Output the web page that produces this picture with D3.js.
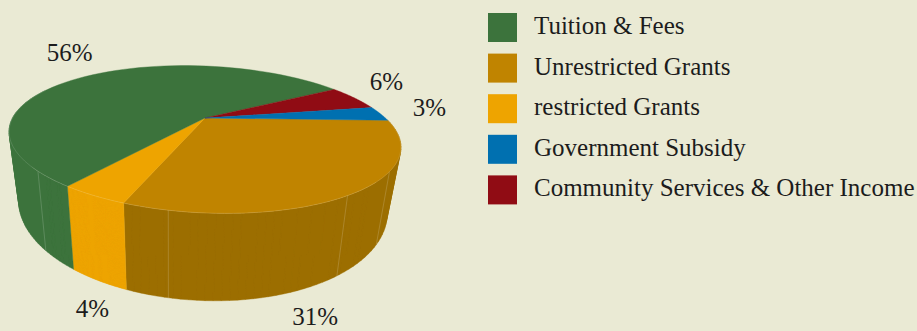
<!DOCTYPE html>
<html>
<head>
<meta charset="utf-8">
<script src="https://cdn.jsdelivr.net/npm/d3@7"></script>
<style>
    html, body { margin: 0; padding: 0; background: #eaead4; }
    svg { display: block; }
    text { font-family: "Liberation Serif", serif; fill: #1c1c1c; }
</style>
</head>
<body>
<script>
// legend order
const categories = ['Tuition & Fees', 'Unrestricted Grants', 'restricted Grants', 'Government Subsidy', 'Community Services & Other Income'];
const shares = [55.6, 31.3, 4.3, 3.2, 5.6];
const colors = ['#3c733c', '#c08400', '#eea400', '#0070b0', '#900c14'];
const wallColors = ['#3c733c', '#9c6e00', '#eea400', '#0070b0', '#900c14'];
// order of the slices around the pie, clockwise
const sliceOrder = [1, 2, 0, 4, 3];
// faint joins on the outer wall, degrees clockwise from the top
const wallSeams = [125, 144.6, 188, 225];

const draw = () => {
    let w = 917,
        h = 331;

    // perspective of the disc
    let cx = 205, cy = 118,
        rx = 187.4, ry = 67.2,
        tilt = 7.5, depth = 0.2925,
        wallHeight = 62;

    let project = theta => {
        let u = Math.sin(theta),
            v = -Math.cos(theta),
            k = 1 - depth * v;
        return [cx + rx * u / k, cy + (ry * v + tilt * u) / k];
    };

    let projectBottom = theta => {
        let [x, y] = project(theta),
            u = Math.sin(theta),
            v = -Math.cos(theta),
            k = 1 - depth * v;
        return [x + (170 - x) * 0.06, y + (wallHeight - 1.5 * u) / k];
    };

    let rad = d3.scaleLinear().domain([0, 360]).range([0, 2 * Math.PI]);

    let pie = d3.pie()
        .sort(null)
        .value(i => shares[i])
        .startAngle(rad(85.6))
        .endAngle(rad(85.6 + 360));

    let slices = pie(sliceOrder);

    let line = d3.line();

    let sample = (a, b) => d3.range(0, 61).map(i => a + (b - a) * i / 60);

    // wall as a strip of small quads, so the fold at each side of the disc still fills
    let wallPath = (a, b) => {
        let angles = sample(a, b);
        return angles.slice(1).map((t, i) => {
            let quad = [project(angles[i]), project(t), projectBottom(t), projectBottom(angles[i])];
            if (d3.polygonArea(quad) < 0) quad.reverse();
            return line(quad) + 'Z';
        }).join('');
    };

    let svg = d3.select('body')
        .append('svg')
        .attr('width', w)
        .attr('height', h)
        .attr('viewBox', `0 0 ${w} ${h}`);

    // only the part of the wall facing us gets drawn
    let wallStart = rad(85.6),
        wallEnd = rad(290);

    let walls = slices.filter(d => d.startAngle < wallEnd);

    svg.append('g')
        .selectAll('path')
        .data(walls)
        .enter()
        .append('path')
        .attr('d', d => wallPath(Math.max(d.startAngle, wallStart), Math.min(d.endAngle, wallEnd)))
        .attr('fill', d => wallColors[d.data])
        .attr('stroke', d => wallColors[d.data])
        .attr('stroke-width', 0.4);

    // joins in the wall
    svg.append('g')
        .selectAll('line')
        .data(wallSeams)
        .enter()
        .append('line')
        .attr('x1', d => project(rad(d))[0])
        .attr('y1', d => project(rad(d))[1])
        .attr('x2', d => projectBottom(rad(d))[0])
        .attr('y2', d => projectBottom(rad(d))[1])
        .attr('stroke', '#ffffff')
        .attr('stroke-opacity', 0.28)
        .attr('stroke-width', 0.6);

    // top of the pie
    svg.append('g')
        .selectAll('path')
        .data(slices)
        .enter()
        .append('path')
        .attr('d', d => line([[cx, cy]].concat(sample(d.startAngle, d.endAngle).map(project))) + 'Z')
        .attr('fill', d => colors[d.data])
        .attr('stroke', d => colors[d.data])
        .attr('stroke-width', 0.4);

    // pale edge round the front of the top
    svg.append('path')
        .attr('d', line(sample(rad(85.6), rad(290)).map(project)))
        .attr('fill', 'none')
        .attr('stroke', '#ffffff')
        .attr('stroke-opacity', 0.22)
        .attr('stroke-width', 0.6);

    // percent labels, placed off the rim of each slice
    let labelNudge = new Map([[0, [-23, -14]], [1, [-40, 53]], [2, [-1, 37]], [3, [49, 2]], [4, [32, -8]]]);

    svg.append('g')
        .selectAll('text')
        .data(slices)
        .enter()
        .append('text')
        .attr('x', d => project((d.startAngle + d.endAngle) / 2)[0] + labelNudge.get(d.data)[0])
        .attr('y', d => {
            let mid = (d.startAngle + d.endAngle) / 2;
            let front = d.data == 1 || d.data == 2;
            return (front ? projectBottom(mid) : project(mid))[1] + labelNudge.get(d.data)[1];
        })
        .attr('text-anchor', 'middle')
        .attr('font-size', 25)
        .text(d => d3.format('.0f')(shares[d.data]) + '%');

    // legend
    let legendY = d3.scaleBand()
        .domain(categories)
        .range([13, 216]);

    let legend = svg.append('g')
        .selectAll('g')
        .data(categories)
        .enter()
        .append('g')
        .attr('transform', d => `translate(488, ${legendY(d)})`);

    legend.append('rect')
        .attr('width', 29)
        .attr('height', 29)
        .attr('fill', (d, i) => colors[i]);

    legend.append('text')
        .attr('x', 46)
        .attr('y', 21)
        .attr('font-size', 25)
        .text(d => d);
}

draw()
</script>
</body>
</html>
